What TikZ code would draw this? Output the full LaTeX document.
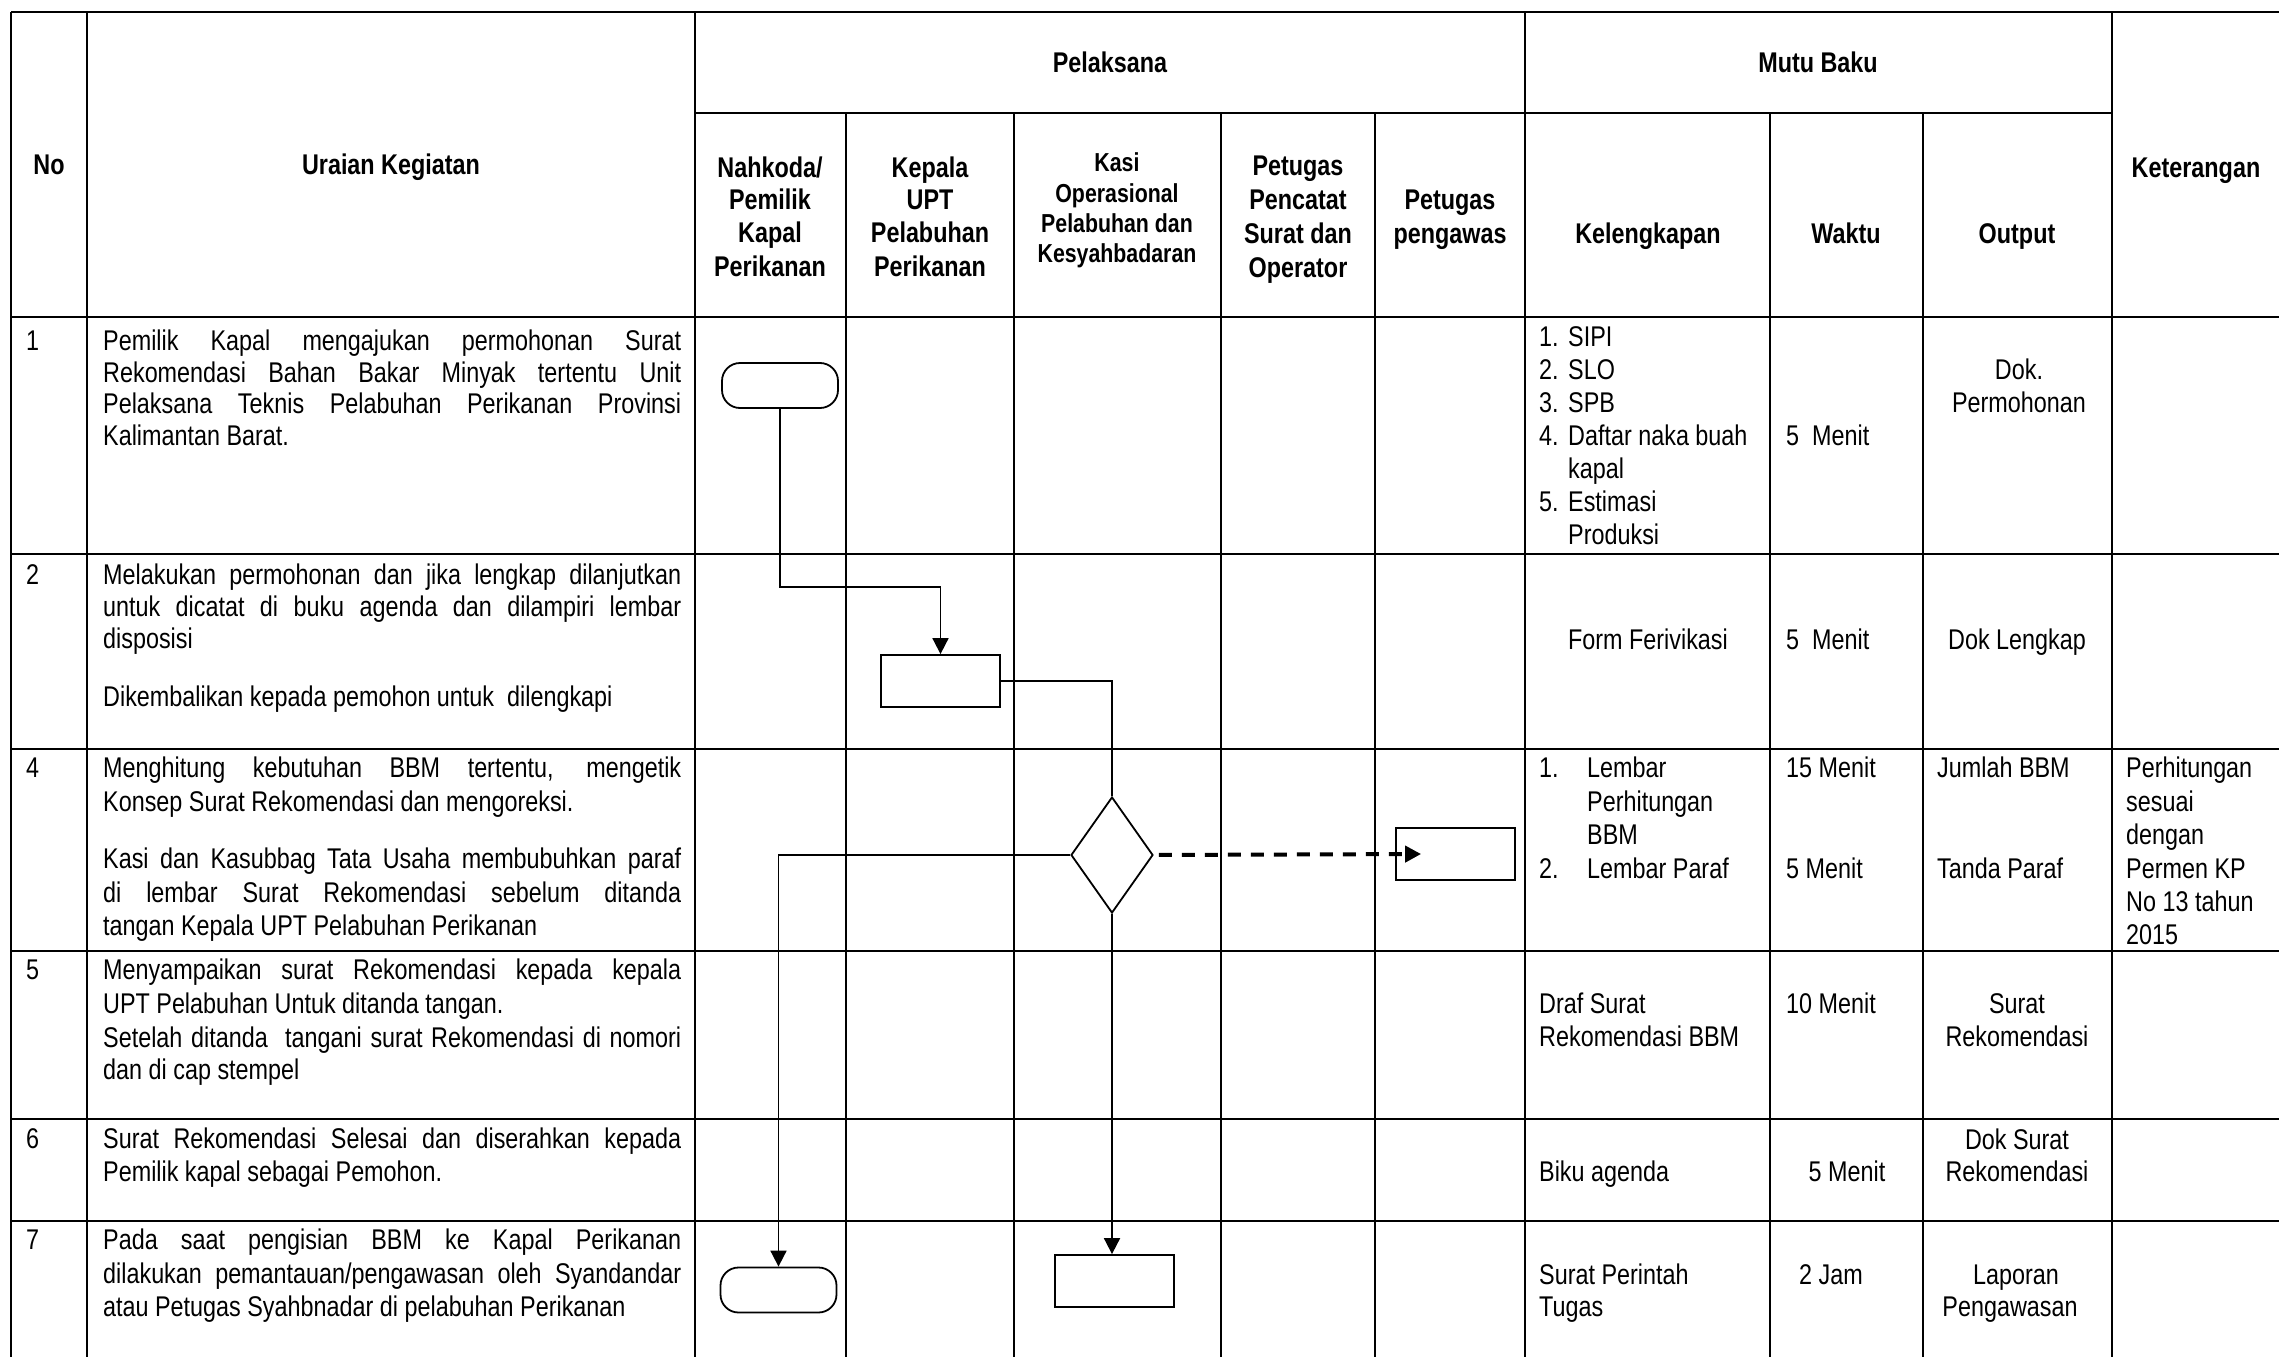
\documentclass[tikz,border=0pt]{standalone}
\usepackage{fontspec}
\setmainfont[FakeStretch=0.82]{Liberation Sans}
\usetikzlibrary{arrows.meta,shapes.geometric}
\newcommand{\jl}[1]{\makebox[578pt][s]{#1}}
\begin{document}
\begin{tikzpicture}[x=1pt,y=-1pt,
  hl/.style={line width=2.8pt},
  vl/.style={line width=1.8pt},
  body/.style={inner sep=0pt,font=\fontsize{28.5}{33}\selectfont},
  bw/.style={body,anchor=base west},
  bc/.style={body,anchor=base},
  hd/.style={inner sep=0pt,anchor=base,font=\fontsize{28.5}{33}\selectfont\bfseries},
  hk/.style={inner sep=0pt,anchor=base,font=\fontsize{26}{30}\selectfont\bfseries},
  term/.style={draw,line width=1.8pt,rounded corners=18pt,minimum width=116pt,minimum height=45pt,inner sep=0pt},
  proc/.style={draw,line width=1.8pt,minimum width=119pt,minimum height=52pt,inner sep=0pt},
  dec/.style={draw,line width=1.8pt,diamond,shape aspect=0.707,minimum width=82pt,minimum height=116pt,inner sep=0pt},
  flow/.style={line width=1.8pt},
  arr/.style={flow,-{Triangle[length=16pt,width=16pt]}},
  darr/.style={line width=4pt,dash pattern=on 13pt off 10pt,shorten <=5pt,-{Triangle[length=16pt,width=16pt]}}
]
\useasboundingbox (0,0) rectangle (2279,1357);
\fill[white] (0,0) rectangle (2279,1357);

% grid
\draw[hl] (11,12) -- (2279,12);
\draw[hl] (695,113) -- (2112,113);
\draw[hl] (11,317) -- (2279,317);
\foreach \y in {554,749,951,1119,1221} \draw[hl] (11,\y) -- (2279,\y);
\foreach \x in {11,87,695,1525,2112} \draw[vl] (\x,12) -- (\x,1357);
\foreach \x in {846,1014,1221,1375,1770,1923} \draw[vl] (\x,113) -- (\x,1357);

% headers
\node[hd] (hno) at (49,174) {No};
\node[hd] (hur) at (391,174) {Uraian Kegiatan};
\node[hd] (hpel) at (1110,72) {Pelaksana};
\node[hd] (hmb) at (1818,72) {Mutu Baku};
\node[hd] (hket) at (2196,177) {Keterangan};
\node[hd] (hn1) at (770,177) {Nahkoda/};
\node[hd] (hn2) at (770,209) {Pemilik};
\node[hd] (hn3) at (770,242) {Kapal};
\node[hd] (hn4) at (770,276) {Perikanan};
\node[hd] (hk1) at (930,177) {Kepala};
\node[hd] (hk2) at (930,209) {UPT};
\node[hd] (hk3) at (930,242) {Pelabuhan};
\node[hd] (hk4) at (930,276) {Perikanan};
\node[hk] (hs1) at (1117,171) {Kasi};
\node[hk] (hs2) at (1117,202) {Operasional};
\node[hk] (hs3) at (1117,232) {Pelabuhan dan};
\node[hk] (hs4) at (1117,262) {Kesyahbadaran};
\node[hd] (hp1) at (1298,175) {Petugas};
\node[hd] (hp2) at (1298,209) {Pencatat};
\node[hd] (hp3) at (1298,243) {Surat dan};
\node[hd] (hp4) at (1298,277) {Operator};
\node[hd] (hg1) at (1450,209) {Petugas};
\node[hd] (hg2) at (1450,243) {pengawas};
\node[hd] (hkl) at (1648,243) {Kelengkapan};
\node[hd] (hwk) at (1846,243) {Waktu};
\node[hd] (hout) at (2017,243) {Output};

% numbers
\node[bw] (n1) at (26,350) {1};
\node[bw] (n2) at (26,584) {2};
\node[bw] (n4) at (26,777) {4};
\node[bw] (n5) at (26,979) {5};
\node[bw] (n6) at (26,1148) {6};
\node[bw] (n7) at (26,1249) {7};

% uraian
\node[bw] (u1a) at (103,350) {\jl{Pemilik Kapal mengajukan permohonan Surat}};
\node[bw] (u1b) at (103,382) {\jl{Rekomendasi Bahan Bakar Minyak tertentu Unit}};
\node[bw] (u1c) at (103,413) {\jl{Pelaksana Teknis Pelabuhan Perikanan Provinsi}};
\node[bw] (u1d) at (103,445) {Kalimantan Barat.};
\node[bw] (u2a) at (103,584) {\jl{Melakukan permohonan dan jika lengkap dilanjutkan}};
\node[bw] (u2b) at (103,616) {\jl{untuk dicatat di buku agenda dan dilampiri lembar}};
\node[bw] (u2c) at (103,648) {disposisi};
\node[bw] (u2d) at (103,706) {Dikembalikan kepada pemohon untuk~ dilengkapi};
\node[bw] (u4a) at (103,777) {\jl{Menghitung kebutuhan BBM tertentu, mengetik}};
\node[bw] (u4b) at (103,811) {Konsep Surat Rekomendasi dan mengoreksi.};
\node[bw] (u4c) at (103,868) {\jl{Kasi dan Kasubbag Tata Usaha membubuhkan paraf}};
\node[bw] (u4d) at (103,902) {\jl{di lembar Surat Rekomendasi sebelum ditanda}};
\node[bw] (u4e) at (103,935) {tangan Kepala UPT Pelabuhan Perikanan};
\node[bw] (u5a) at (103,979) {\jl{Menyampaikan surat Rekomendasi kepada kepala}};
\node[bw] (u5b) at (103,1013) {UPT Pelabuhan Untuk ditanda tangan.};
\node[bw] (u5c) at (103,1047) {\jl{Setelah ditanda~ tangani surat Rekomendasi di nomori}};
\node[bw] (u5d) at (103,1079) {dan di cap stempel};
\node[bw] (u6a) at (103,1148) {\jl{Surat Rekomendasi Selesai dan diserahkan kepada}};
\node[bw] (u6b) at (103,1181) {Pemilik kapal sebagai Pemohon.};
\node[bw] (u7a) at (103,1249) {\jl{Pada saat pengisian BBM ke Kapal Perikanan}};
\node[bw] (u7b) at (103,1283) {\jl{dilakukan pemantauan/pengawasan oleh Syandandar}};
\node[bw] (u7c) at (103,1316) {atau Petugas Syahbnadar di pelabuhan Perikanan};

% row 1 mutu baku
\node[bw] (k1a) at (1539,346) {\makebox[29pt][l]{1.}SIPI};
\node[bw] (k1b) at (1539,379) {\makebox[29pt][l]{2.}SLO};
\node[bw] (k1c) at (1539,412) {\makebox[29pt][l]{3.}SPB};
\node[bw] (k1d) at (1539,445) {\makebox[29pt][l]{4.}Daftar naka buah};
\node[bw] (k1e) at (1568,478) {kapal};
\node[bw] (k1f) at (1539,511) {\makebox[29pt][l]{5.}Estimasi};
\node[bw] (k1g) at (1568,544) {Produksi};
\node[bw] (w1) at (1786,445) {5~ Menit};
\node[bc] (o1a) at (2019,379) {Dok.};
\node[bc] (o1b) at (2019,412) {Permohonan};

% row 2
\node[bc] (k2) at (1648,649) {Form Ferivikasi};
\node[bw] (w2) at (1786,649) {5~ Menit};
\node[bc] (o2) at (2017,649) {Dok Lengkap};

% row 4
\node[bw] (k4a) at (1539,777) {\makebox[48pt][l]{1.}Lembar};
\node[bw] (k4b) at (1587,811) {Perhitungan};
\node[bw] (k4c) at (1587,844) {BBM};
\node[bw] (k4d) at (1539,878) {\makebox[48pt][l]{2.}Lembar Paraf};
\node[bw] (w4a) at (1786,777) {15 Menit};
\node[bw] (w4b) at (1786,878) {5 Menit};
\node[bw] (o4a) at (1937,777) {Jumlah BBM};
\node[bw] (o4b) at (1937,878) {Tanda Paraf};
\node[bw] (c4a) at (2126,777) {Perhitungan};
\node[bw] (c4b) at (2126,811) {sesuai};
\node[bw] (c4c) at (2126,844) {dengan};
\node[bw] (c4d) at (2126,878) {Permen KP};
\node[bw] (c4e) at (2126,911) {No 13 tahun};
\node[bw] (c4f) at (2126,944) {2015};

% row 5
\node[bw] (k5a) at (1539,1013) {Draf Surat};
\node[bw] (k5b) at (1539,1046) {Rekomendasi BBM};
\node[bw] (w5) at (1786,1013) {10 Menit};
\node[bc] (o5a) at (2017,1013) {Surat};
\node[bc] (o5b) at (2017,1046) {Rekomendasi};

% row 6
\node[bw] (k6) at (1539,1181) {Biku agenda};
\node[bc] (w6) at (1847,1181) {5 Menit};
\node[bc] (o6a) at (2017,1149) {Dok Surat};
\node[bc] (o6b) at (2017,1181) {Rekomendasi};

% row 7
\node[bw] (k7a) at (1539,1284) {Surat Perintah};
\node[bw] (k7b) at (1539,1316) {Tugas};
\node[bw] (w7) at (1799,1284) {2 Jam};
\node[bc] (o7a) at (2016,1284) {Laporan};
\node[bc] (o7b) at (2010,1316) {Pengawasan};

% flowchart shapes
\node[term] (t1) at (780,385.5) {};
\node[proc] (b2) at (940.5,681) {};
\node[dec] (d4) at (1112,855) {};
\node[proc] (b4) at (1455.5,854) {};
\node[term] (t7) at (778.5,1290) {};
\node[proc] (b7) at (1114.5,1281) {};

% connectors
\draw[arr] (t1.south) -- ++(0,178) -| (b2.north);
\draw[flow] (b2.east) -| (d4.north);
\draw[arr] (d4.west) -| (t7.north);
\draw[arr] (d4.south) -- (d4.south |- b7.north);
\draw[darr] (d4.east) -- ([xshift=26pt]b4.west);
\end{tikzpicture}
\end{document}
